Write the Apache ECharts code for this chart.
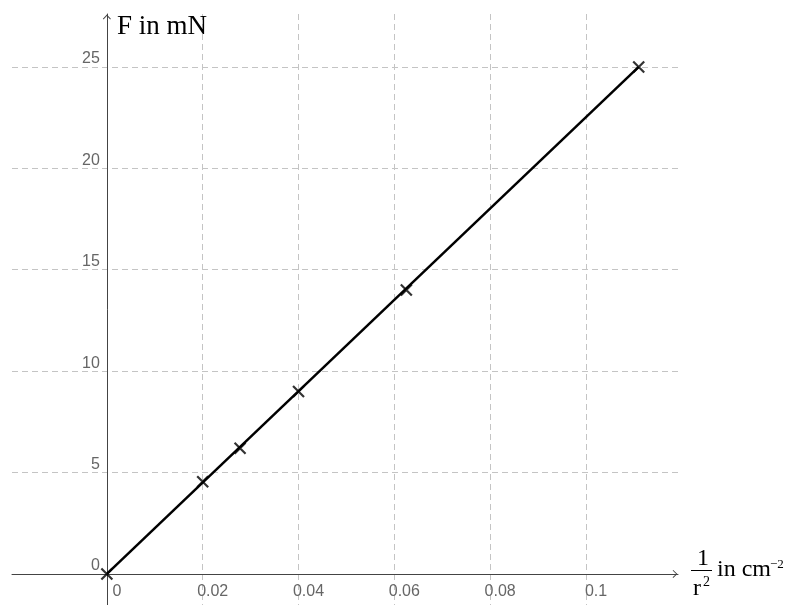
<!DOCTYPE html>
<html>
<head>
<meta charset="utf-8">
<script src="https://cdn.jsdelivr.net/npm/echarts@6/dist/echarts.min.js"></script>
<style>
html,body{margin:0;padding:0;background:#fff;}
#chart{width:788px;height:605px;}
</style>
</head>
<body>
<div id="chart"></div>
<script>
// Data
const invR2 = [0, 0.02, 0.0278, 0.04, 0.0625, 0.111];      // 1/r^2 in cm^-2
const force = [0, 4.55, 6.2, 9.0, 14.0, 25.0];              // F in mN
const fitX = [0, 0.111];
const fitY = [0, 25];
const xAxisRange = [-0.0198, 0.1192];
const yAxisRange = [-1.53, 27.61];
const xStep = 0.02;
const yStep = 5;

const W = 788, H = 605;
const gridBox = {left: 12, right: 110, top: 14, bottom: 0};
const gridW = W - gridBox.left - gridBox.right;
const gridH = H - gridBox.top - gridBox.bottom;
// shift axes so they cross at the origin (labels follow the lines)
const yAxisShift = -((0 - xAxisRange[0]) / (xAxisRange[1] - xAxisRange[0]) * gridW);
const xAxisShift = -((0 - yAxisRange[0]) / (yAxisRange[1] - yAxisRange[0]) * gridH);

const chart = echarts.init(document.getElementById('chart'), null, {renderer: 'canvas'});

const chevron = 'path://M5,0 L10,5.2 L9.2,6 L5,1.6 L0.8,6 L0,5.2 Z';
const axisColor = '#444';
const gridStyle = {color: '#c4c4c4', width: 1, type: [6, 4]};
const labelFont = {fontFamily: 'Liberation Sans', fontSize: 16, color: '#666'};

chart.setOption({
  animation: false,
  backgroundColor: '#fff',
  grid: Object.assign({containLabel: false, outerBoundsMode: 'none'}, gridBox),
  xAxis: {
    type: 'value', position: 'bottom', offset: xAxisShift,
    min: xAxisRange[0], max: xAxisRange[1],
    splitNumber: 7, minInterval: xStep, maxInterval: xStep,
    axisLine: {show: true, onZero: false, lineStyle: {color: axisColor, width: 1},
      symbol: ['none', chevron], symbolSize: [8, 6], symbolOffset: [0, -3]},
    axisTick: {show: false},
    axisLabel: Object.assign({showMinLabel: false, showMaxLabel: false, margin: 10,
      align: 'center', padding: [0, 0, 0, 20], hideOverlap: false}, labelFont),
    splitLine: {show: true, showMinLine: false, showMaxLine: false, lineStyle: gridStyle}
  },
  yAxis: {
    type: 'value', position: 'left', offset: yAxisShift,
    min: yAxisRange[0], max: yAxisRange[1],
    splitNumber: 6, minInterval: yStep, maxInterval: yStep,
    axisLine: {show: true, onZero: false, lineStyle: {color: axisColor, width: 1},
      symbol: ['none', chevron], symbolSize: [8, 6], symbolOffset: [0, -3]},
    axisTick: {show: false},
    axisLabel: Object.assign({showMinLabel: false, showMaxLabel: false, margin: 7,
      verticalAlign: 'bottom', hideOverlap: false}, labelFont),
    splitLine: {show: true, showMinLine: false, showMaxLine: false, lineStyle: gridStyle}
  },
  series: [
    {
      type: 'line',
      data: fitX.map((x, i) => [x, fitY[i]]),
      showSymbol: false,
      lineStyle: {color: '#000', width: 2.5},
      z: 3
    },
    {
      type: 'scatter',
      data: invR2.map((x, i) => [x, force[i]]),
      symbol: 'path://M0,0 L10,10 M0,10 L10,0',
      symbolSize: 11,
      itemStyle: {color: 'transparent', borderColor: '#000', borderWidth: 2.2},
      z: 4
    }
  ],
  graphic: [
    {type: 'text', x: 117, y: 27, z: 10,
      style: {text: 'F in mN', font: '27px "Liberation Serif"', fill: '#000', verticalAlign: 'middle'}},
    {type: 'text', x: 697, y: 559, z: 10,
      style: {text: '1', font: '24px "Liberation Serif"', fill: '#000', verticalAlign: 'middle'}},
    {type: 'line', z: 10, shape: {x1: 691, y1: 570.5, x2: 712, y2: 570.5},
      style: {stroke: '#000', lineWidth: 1}},
    {type: 'text', x: 693, y: 589, z: 10,
      style: {text: 'r', font: '24px "Liberation Serif"', fill: '#000', verticalAlign: 'middle'}},
    {type: 'text', x: 703, y: 582, z: 10,
      style: {text: '2', font: '14px "Liberation Serif"', fill: '#000', verticalAlign: 'middle'}},
    {type: 'text', x: 717, y: 570, z: 10,
      style: {text: 'in cm', font: '24px "Liberation Serif"', fill: '#000', verticalAlign: 'middle'}},
    {type: 'text', x: 770, y: 565, z: 10,
      style: {text: '−2', font: '13px "Liberation Serif"', fill: '#000', verticalAlign: 'middle'}}
  ]
});
</script>
</body>
</html>
